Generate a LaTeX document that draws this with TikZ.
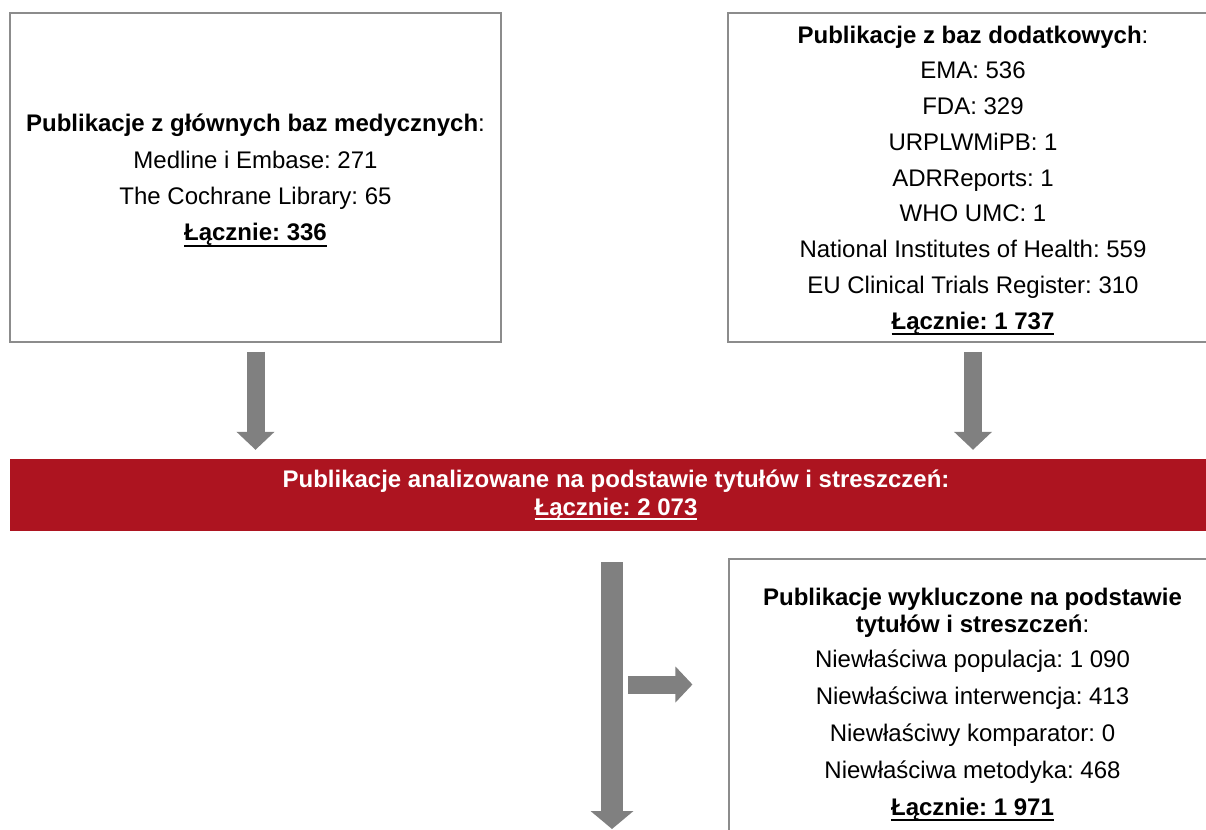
\documentclass[tikz,border=0pt]{standalone}
\usepackage{fontspec}
\setmainfont{Liberation Sans}
\usetikzlibrary{arrows.meta,calc}
\definecolor{barred}{RGB}{173,20,32}
\definecolor{arrowgray}{RGB}{128,128,128}
\definecolor{framegray}{RGB}{140,140,140}
\frenchspacing
\newcommand{\ulbox}[2][6pt]{\setbox0\hbox{#2}\rlap{\smash{\rule[-#1]{\wd0}{2.3pt}}}\box0}
\tikzset{
  frame/.style={draw=framegray, line width=1.1pt, fill=white, inner sep=0pt},
  boxtext/.style={inner sep=0pt, align=center, font=\fontsize{24}{27}\selectfont},
  redbar/.style={fill=barred, draw=none, inner sep=0pt, align=center,
    text=white, font=\fontsize{24}{28}\selectfont},
  blockarrow/.style={draw=arrowgray, line width=18pt,
    -{Triangle[width=37pt,length=18pt]}},
  mainarrow/.style={draw=arrowgray, line width=22pt,
    -{Triangle[width=42pt,length=18pt]}},
  sidearrow/.style={draw=arrowgray, line width=18pt,
    -{Triangle[width=35pt,length=17pt]}},
}
\begin{document}
\begin{tikzpicture}[x=1pt,y=-1pt]
\useasboundingbox (0,0) rectangle (1206,829);
\clip (0,0) rectangle (1206,829);

\node[frame, minimum width=491pt, minimum height=329pt] (lbox) at (255.5,177.5) {};
\node[boxtext, yshift=-2.5pt] (ltext) at (lbox.center)
 {\textbf{Publikacje z głównych baz medycznych}:\\[10pt]
  Medline i Embase: 271\\[9pt]
  The Cochrane Library: 65\\[9pt]
  \ulbox{\textbf{Łącznie: 336}}};

\node[frame, minimum width=490pt, minimum height=329pt] (rbox) at (973,177.5) {};
\node[boxtext, yshift=-2.5pt] (rtext) at (rbox.center)
 {\textbf{Publikacje z baz dodatkowych}:\\[8.75pt]
  EMA: 536\\[8.75pt]
  FDA: 329\\[8.75pt]
  URPLWMiPB: 1\\[8.75pt]
  ADRReports: 1\\[8.75pt]
  WHO UMC: 1\\[8.75pt]
  National Institutes of Health: 559\\[8.75pt]
  EU Clinical Trials Register: 310\\[8.75pt]
  \ulbox{\textbf{Łącznie: 1 737}}};

\node[redbar, minimum width=1212pt, minimum height=72pt] (bar) at (616,495)
 {\textbf{Publikacje analizowane na podstawie tytułów i streszczeń:}\\
  \ulbox[5pt]{\textbf{Łącznie: 2 073}}};

\node[frame, minimum width=487pt, minimum height=292pt] (xbox) at (972.5,705) {};
\node[boxtext, yshift=1pt] (xtext) at (xbox.center)
 {\textbf{Publikacje wykluczone na podstawie}\\
  \textbf{tytułów i streszczeń}:\\[8pt]
  Niewłaściwa populacja: 1 090\\[10pt]
  Niewłaściwa interwencja: 413\\[10pt]
  Niewłaściwy komparator: 0\\[10pt]
  Niewłaściwa metodyka: 468\\[10pt]
  \ulbox{\textbf{Łącznie: 1 971}}};

\coordinate (mainend) at (612,829);
\coordinate (sidestart) at (628,684.5);

\draw[blockarrow] ($(lbox.south)+(0,9)$) -- ($(bar.north -| lbox.south)+(0,-9)$);
\draw[blockarrow] ($(rbox.south)+(0,9)$) -- ($(bar.north -| rbox.south)+(0,-9)$);
\draw[mainarrow] ($(bar.south -| mainend)+(0,31)$) -- (mainend);
\draw[sidearrow] (sidestart) -- ($(xbox.west |- sidestart)+(-36,0)$);
\end{tikzpicture}
\end{document}
